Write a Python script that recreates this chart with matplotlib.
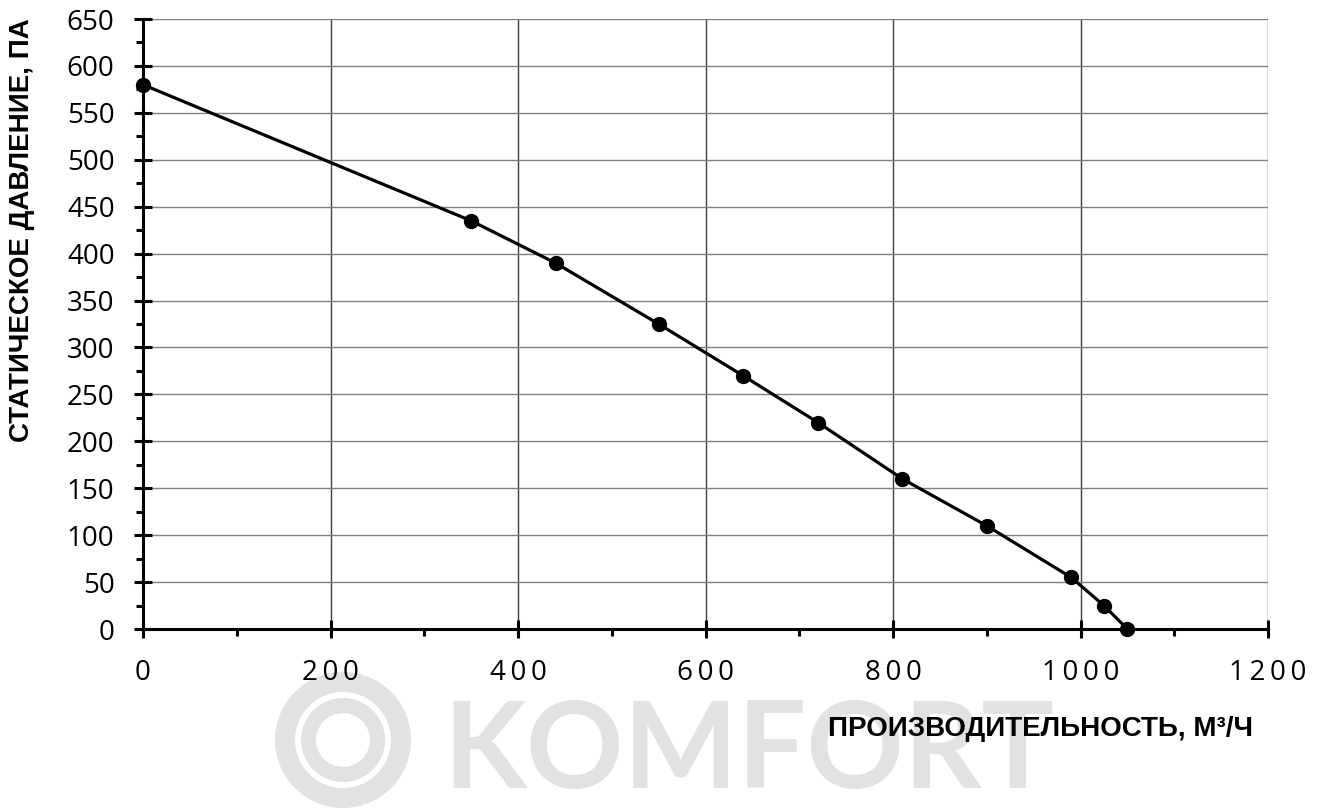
import matplotlib
matplotlib.use("Agg")
import matplotlib.pyplot as plt
from matplotlib.patches import Circle
from matplotlib.ticker import MultipleLocator, FuncFormatter

# dane z wykresu (odczytane)
przeplyw = [0, 350, 440, 550, 640, 720, 810, 900, 990, 1025, 1050]
cisnienie = [580, 435, 390, 325, 270, 220, 160, 110, 55, 25, 0]

x_label = "ПРОИЗВОДИТЕЛЬНОСТЬ, М³/Ч"
y_label = "СТАТИЧЕСКОЕ ДАВЛЕНИЕ, ПА"
znak = "KOMFORT"

W, H = 1322, 811
fig = plt.figure(figsize=(W / 100, H / 100), dpi=100)

# znak wodny (tło)
wm = fig.add_axes([0, 0, 1, 1], zorder=0)
wm.set_xlim(0, W)
wm.set_ylim(H, 0)
wm.axis("off")
szary = "#e2e2e2"
wm.add_patch(Circle((343, 740), 58, fill=False, lw=20 * 0.72, ec=szary))
wm.add_patch(Circle((343, 740), 34.5, fill=False, lw=15 * 0.72, ec=szary))
wm.text(443, 788, znak, fontsize=87, color=szary, family="Lato",
        fontweight="bold", va="baseline", ha="left")

ax = fig.add_axes([143 / W, 1 - 629 / H, (1268 - 143) / W, (629 - 19) / H], zorder=1)
ax.patch.set_alpha(0)

ax.plot(przeplyw, cisnienie, color="black", lw=2.3, marker="o", ms=10,
        clip_on=False, zorder=5)

ax.set_xlim(0, 1200)
ax.set_ylim(0, 650)
ax.xaxis.set_major_locator(MultipleLocator(200))
ax.xaxis.set_minor_locator(MultipleLocator(100))
ax.yaxis.set_major_locator(MultipleLocator(50))
ax.yaxis.set_minor_locator(MultipleLocator(25))

ax.grid(True, which="major", axis="y", color="#808080", lw=1)
ax.grid(True, which="major", axis="x", color="#404040", lw=1)
ax.set_axisbelow(True)

for s in ["top", "right"]:
    ax.spines[s].set_visible(False)
for s in ["left", "bottom"]:
    ax.spines[s].set_linewidth(2.2)

ax.tick_params(which="major", direction="inout", length=13, width=2.2)
ax.tick_params(which="minor", direction="out", length=5, width=2.2)
ax.tick_params(axis="y", which="major", pad=14)
ax.tick_params(axis="x", which="major", pad=15)

# etykiety osi X z rozstrzelonymi cyframi
rozstaw = lambda v, p: "\u2009".join(str(int(v)))
ax.xaxis.set_major_formatter(FuncFormatter(rozstaw))
ax.tick_params(labelsize=20)
for t in ax.get_xticklabels() + ax.get_yticklabels():
    t.set_fontfamily(["Open Sans", "DejaVu Sans"])

fig.text(1253 / W, 1 - 729 / H, x_label, fontsize=20, fontweight="bold",
         family="Liberation Sans", ha="right", va="center")
fig.text(22 / W, 1 - 18 / H, y_label, fontsize=20, fontweight="bold",
         family="Liberation Sans", ha="center", va="top", rotation=90)

fig.savefig("out.png", dpi=100)
